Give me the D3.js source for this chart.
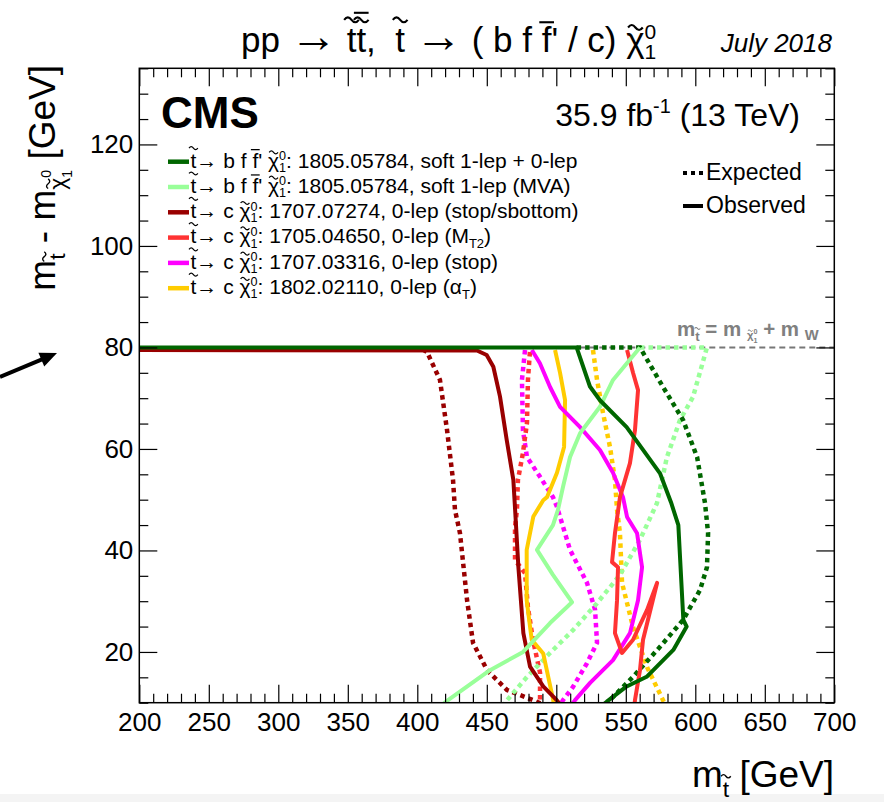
<!DOCTYPE html>
<html><head><meta charset="utf-8">
<script src="https://cdn.jsdelivr.net/npm/d3@7"></script>
<style>body{margin:0;background:#fff} text{white-space:pre}</style>
</head><body>
<svg id="c" width="884" height="802"></svg>
<script>
// ---------------- DATA ----------------
const xMajorTicks = [200, 250, 300, 350, 400, 450, 500, 550, 600, 650, 700];
const yMajorTicks = [20, 40, 60, 80, 100, 120];
const xMinorTicks = d3.range(200, 701, 10).filter(v => v % 50 !== 0);
const yMinorTicks = d3.range(10, 136, 5).filter(v => v % 20 !== 0);

const legendDecay = ["bff", "bff", "c", "c", "c", "c"];
const legendPaper = ["1805.05784", "1805.05784", "1707.07274", "1705.04650", "1707.03316", "1802.02110"];
const legendAnalysis = ["soft 1-lep + 0-lep", "soft 1-lep (MVA)", "0-lep (stop/sbottom)", "0-lep (M_T2)", "0-lep (stop)", "0-lep (α_T)"];
const seriesColors = ["#006600", "#99ff99", "#990000", "#ff3333", "#ff00ff", "#ffcc00"];

// observed contours [m_stop, dm]
const obsDarkGreen = [[200,80],[514.6,80],[524.2,72.3],[531.4,69.6],[550.6,64.3],[574.6,55.2],[582.5,49.5],[587.8,45],[591.4,26.3],[593.8,25],[584.2,20.4],[565,15.1],[550.6,13.2],[536.3,10.2],[531,9]];
const obsLightGreen = [[560.2,80],[540.8,73.6],[531.4,68.3],[517.1,63.1],[509.9,58.4],[504.8,52.5],[501.2,48],[497.6,45],[486.1,40.1],[497.6,35.2],[511.3,29.8],[495.5,25.7],[476.1,20],[452.3,16.4],[422.1,10.5],[418,9.6]];
const obsDarkRed = [[200,79.5],[442.9,79.4],[449.9,78.5],[454.7,76.2],[459.5,70.3],[464.3,61.8],[469.1,53.9],[470.8,46],[472.7,36.8],[476.3,23.7],[481.1,17.1],[490.6,13.2],[500.3,10.5],[503,9.6]];
const obsRed = [[550.9,79.5],[555.2,75],[558.8,71.6],[556.6,63.7],[553,57.2],[545.8,50.5],[542.2,43.4],[540.1,37.7],[544.4,36.7],[543.7,30.2],[542.2,23.7],[547.3,19.8],[555.2,22.4],[565.3,28.3],[572.5,33.6],[562.4,22.4],[560.2,16.4],[556.6,10.5],[556.2,9.5]];
const obsMagenta = [[482.4,79.5],[488.2,76.9],[495.5,72.2],[502.7,68.3],[517.1,64.3],[531.4,59.8],[540.8,55.3],[548,50.5],[550.9,46.6],[558.1,43.4],[561.7,36.7],[558.8,30.2],[553,23.7],[540.8,18.4],[524.3,13.9],[513.5,10.5],[511,9.6]];
const obsYellow = [[499.1,79.5],[502.7,75],[506.3,69.6],[505.6,60.4],[500.5,55.3],[493.3,50.5],[490.6,49.9],[483.5,46.7],[478.7,40.1],[478.7,30.2],[482.3,22.4],[490.6,19.7],[494.2,15.1],[497.8,10.5],[498.2,9.5]];

// expected contours
const expDarkGreen = [[514.6,80],[560.2,80],[576.8,72.2],[591.2,65.7],[601.3,58.4],[607,49.3],[609.2,43.4],[608.4,36.7],[603.4,32.2],[591.2,26.3],[574.6,21],[555.2,15.1],[538.6,10.5],[536,9.6]];
const expLightGreen = [[560.2,80],[608.4,80],[598.3,70.2],[589,65.7],[579.6,58.4],[572.4,49.3],[560.2,42.1],[545.8,35.2],[529.3,29.6],[512,24.3],[495.5,19.8],[479,15.1],[464.6,10.5],[462,9.6]];
const expDarkRed = [[404,79.6],[407,79.1],[416.3,73.6],[421.4,63.7],[425.7,53.9],[427.1,48],[430.7,43.4],[435.8,30.2],[440.1,21.8],[450.2,16.4],[464.6,12.5],[483.3,10.5],[490,9.7]];
const expRed = [[481,79.1],[479.6,73.6],[478.9,65.1],[476,59.2],[472.4,53.9],[471.7,48],[470.3,44.6],[470.3,38.1],[477.5,35.5],[479.6,28.8],[483.2,22.4],[488.3,15.9],[488.3,10.5],[488.3,9.5]];
const expMagenta = [[477.5,79.5],[475.3,73.6],[476,63.7],[478.9,58.4],[488.3,54.5],[497.6,50.5],[500.5,48.6],[509.9,40.1],[522.1,33.6],[527.9,28.3],[529.3,21.8],[522.1,17.8],[512,13.1],[504.8,10.5],[503,9.6]];
const expYellow = [[526.4,79.5],[529.3,73.6],[533.6,67.1],[538.6,60.4],[542.2,53.9],[543.7,48],[545.8,43.4],[547.3,33.6],[555.2,24.9],[565.3,17],[576.8,10.5],[578.5,9.5]];

const observedCurves = [obsDarkGreen, obsLightGreen, obsDarkRed, obsRed, obsMagenta, obsYellow];
const expectedCurves = [expDarkGreen, expLightGreen, expDarkRed, expRed, expMagenta, expYellow];

const kinematicLine = [[200, 80], [700, 80]];

// ---------------- DRAWING ----------------
const FONT = "'Liberation Sans', Arial, Helvetica, sans-serif";
const svg = d3.select("#c");
svg.append("rect").attr("x",0).attr("y",0).attr("width",884).attr("height",802).attr("fill","#fff");
svg.append("rect").attr("x",0).attr("y",794).attr("width",884).attr("height",8).attr("fill","#f4f4f4");

const L = 139.3, R = 834.3, T = 68.3, B = 702.7;
const x = d3.scaleLinear().domain([200, 700]).range([L, R]);
const y = d3.scaleLinear().domain([10, 135]).range([B, T]);

// rich text helper
function rich(parent, segs, o) {
  const g = parent.append("g").attr("transform", o.transform || `translate(${o.x},${o.y})`);
  const fs = o.size;
  const fill = o.fill || "#000";
  const t = g.append("text").attr("x", 0).attr("y", 0)
    .attr("xml:space", "preserve")
    .attr("font-family", FONT).attr("font-size", fs).attr("fill", fill)
    .attr("text-anchor", o.anchor || "start");
  if (o.weight) t.attr("font-weight", o.weight);
  if (o.italic) t.attr("font-style", "italic");
  let prev = 0, idx = 0;
  const marks = [];
  segs.forEach(s => {
    if (typeof s === "string") s = {t: s};
    const sc = s.sc || 1, off = -(s.up || 0) * fs;
    const ts = t.append("tspan").attr("font-size", fs * sc).attr("dy", off - prev).text(s.t);
    if (s.dx) ts.attr("dx", s.dx * fs);
    prev = off;
    if (s.mark) marks.push({i: idx, s: s, size: fs * sc, base: off});
    idx += s.t.length;
  });
  const node = t.node();
  marks.forEach(m => {
    const e = node.getExtentOfChar(m.i);
    const cx = e.x + e.width / 2 + (m.s.mx || 0) * m.size;
    const w = (m.s.mw || 0.42) * m.size;
    const list = Array.isArray(m.s.mark) ? m.s.mark : [m.s.mark];
    let h = (m.s.mh || 0.92) * m.size;
    const sw = Math.max(1, (o.weight ? 0.085 : 0.06) * m.size);
    list.forEach(k => {
      const yb = m.base - h;
      if (k === "tilde") {
        const a = 0.07 * m.size;
        g.append("path").attr("d", `M${cx - w/2},${yb} q${w/4},${-2*a} ${w/2},0 t${w/2},0`)
          .attr("fill", "none").attr("stroke", fill).attr("stroke-width", sw);
        h += 0.2 * m.size;
      } else {
        g.append("line").attr("x1", cx - w/2).attr("x2", cx + w/2).attr("y1", yb).attr("y2", yb)
          .attr("stroke", fill).attr("stroke-width", sw);
        h += 0.12 * m.size;
      }
    });
  });
  return g;
}
function subParse(str) {
  const out = [];
  const parts = str.split(/_([A-Za-z0-9]+)/);
  parts.forEach((p, i) => {
    if (!p) return;
    if (i % 2 === 1) out.push({t: p, sc: 0.62, up: -0.22});
    else out.push({t: p, up: 0});
  });
  return out;
}
const chi = (mh) => [{t: "χ", mark: "tilde", mh: mh || 0.72}, {t: "0", sc: 0.6, up: 0.36}, {t: "1", sc: 0.6, up: -0.2, dx: -0.6 * 0.556}];

// clip
svg.append("clipPath").attr("id", "clip").append("rect")
  .attr("x", L).attr("y", T).attr("width", R - L).attr("height", B - T);

const line = d3.line().x(d => x(d[0])).y(d => y(d[1]));
const plot = svg.append("g").attr("clip-path", "url(#clip)");

// kinematic line
plot.append("path").attr("d", line(kinematicLine)).attr("fill", "none")
  .attr("stroke", "#777").attr("stroke-width", 2).attr("stroke-dasharray", "6,4");

// expected (dotted), reverse order so first series on top
for (let i = expectedCurves.length - 1; i >= 0; i--) {
  plot.append("path").attr("d", line(expectedCurves[i])).attr("fill", "none")
    .attr("stroke", seriesColors[i]).attr("stroke-width", 4.5).attr("stroke-dasharray", "4.5,4");
}
for (let i = observedCurves.length - 1; i >= 0; i--) {
  plot.append("path").attr("d", line(observedCurves[i])).attr("fill", "none")
    .attr("stroke", seriesColors[i]).attr("stroke-width", 4).attr("stroke-linejoin", "round");
}

// axes
function ax(gen, tr, vals, size, labels, pad) {
  const a = gen.tickValues(vals).tickSizeInner(size).tickSizeOuter(0).tickPadding(pad || 8);
  if (!labels) a.tickFormat("");
  const g = svg.append("g").attr("transform", tr).call(a);
  g.select(".domain").remove();
  g.selectAll(".tick line").attr("stroke", "#000").attr("stroke-width", 1.2);
  g.selectAll("text").attr("font-family", FONT).attr("font-size", 26).attr("fill", "#000");
  return g;
}
ax(d3.axisBottom(x), `translate(0,${B})`, xMajorTicks, -18, true, 10);
ax(d3.axisBottom(x), `translate(0,${B})`, xMinorTicks, -9, false);
ax(d3.axisTop(x), `translate(0,${T})`, xMajorTicks, -18, false);
ax(d3.axisTop(x), `translate(0,${T})`, xMinorTicks, -9, false);
ax(d3.axisLeft(y), `translate(${L},0)`, yMajorTicks, -18, true, 6);
ax(d3.axisLeft(y), `translate(${L},0)`, yMinorTicks, -9, false);
ax(d3.axisRight(y), `translate(${R},0)`, yMajorTicks, -18, false);
ax(d3.axisRight(y), `translate(${R},0)`, yMinorTicks, -9, false);

svg.append("rect").attr("x", L).attr("y", T).attr("width", R - L).attr("height", B - T)
  .attr("fill", "none").attr("stroke", "#000").attr("stroke-width", 1.5);

// kinematic label
rich(svg, ["m", {t: "t", sc: 0.65, up: -0.25, mark: "tilde", mh: 0.95}, {t: " = m ", up: 0},
  {t: "χ", sc: 0.55, up: -0.15, mark: "tilde", mh: 0.75}, {t: "0", sc: 0.35, up: 0.12}, {t: "1", sc: 0.35, up: -0.32, dx: -0.35 * 0.556},
  {t: " + m ", up: 0}, {t: "W", sc: 0.72, up: -0.2}],
  {x: 677, y: 336, size: 20.5, fill: "#808080", weight: "bold"});

// title
const arrowBig = {t: "→", sc: 1.35, up: 0.0};
rich(svg, ["pp ", arrowBig, {t: " ", up: 0}, {t: "t", mark: "tilde"}, {t: "t", mark: ["tilde", "bar"]}, ",  ", {t: "t", mark: "tilde"},
  " ", arrowBig, {t: " ( b f ", up: 0}, {t: "f", mark: "bar", mh: 0.85}, "' / c) ", ...chi(0.7)],
  {x: 241, y: 52, size: 35});
rich(svg, ["July 2018"], {x: 832, y: 52, size: 26, italic: true, anchor: "end"});

// CMS + lumi
rich(svg, ["CMS"], {x: 161, y: 128, size: 44, weight: "bold"});
rich(svg, ["35.9 fb", {t: "-1", sc: 0.62, up: 0.42}, {t: " (13 TeV)", up: 0}], {x: 800, y: 126, size: 32, anchor: "end"});

// legend
const legY0 = 161.7, legDY = 25.3;
legendPaper.forEach((p, i) => {
  const yy = legY0 + i * legDY;
  svg.append("line").attr("x1", 168).attr("x2", 189).attr("y1", yy).attr("y2", yy)
    .attr("stroke", seriesColors[i]).attr("stroke-width", 4.5);
  const decay = legendDecay[i] === "bff"
    ? [{t: "t", mark: "tilde"}, "→ b f ", {t: "f", mark: "bar", mh: 0.85}, "' ", ...chi(), {t: ": ", up: 0}]
    : [{t: "t", mark: "tilde"}, "→ c ", ...chi(), {t: ": ", up: 0}];
  rich(svg, [...decay, {t: p + ", ", up: 0}, ...subParse(legendAnalysis[i])], {x: 190.5, y: yy + 5.8, size: 21});
});

// expected / observed legend
svg.append("line").attr("x1", 683).attr("x2", 703).attr("y1", 173).attr("y2", 173)
  .attr("stroke", "#000").attr("stroke-width", 4).attr("stroke-dasharray", "4,4");
svg.append("line").attr("x1", 683).attr("x2", 703).attr("y1", 206).attr("y2", 206)
  .attr("stroke", "#000").attr("stroke-width", 4);
rich(svg, ["Expected"], {x: 706, y: 180, size: 23});
rich(svg, ["Observed"], {x: 706, y: 213, size: 23});

// axis titles
rich(svg, ["m", {t: "t", sc: 0.62, up: -0.28, mark: "tilde"}, {t: " [GeV]", up: 0}],
  {x: 834, y: 787, size: 37, anchor: "end"});
rich(svg, ["m", {t: "t", sc: 0.62, up: -0.28, mark: "tilde"}, {t: " - m", up: 0},
  {t: "χ", sc: 0.62, up: -0.28, mark: "tilde", mh: 0.75}, {t: "0", sc: 0.38, up: 0.1}, {t: "1", sc: 0.38, up: -0.45, dx: -0.38 * 0.556},
  {t: " [GeV]", up: 0}],
  {transform: "translate(55,65) rotate(-90)", size: 37, anchor: "end"});

// arrow pointing at dm = 80
(function () {
  const tail = [0, 377], tip = [57, 353];
  const dx = tip[0] - tail[0], dy = tip[1] - tail[1], len = Math.hypot(dx, dy);
  const ux = dx / len, uy = dy / len, px = -uy, py = ux;
  const hl = 17, hw = 7.5;
  const bx = tip[0] - hl * ux, by = tip[1] - hl * uy;
  svg.append("line").attr("x1", tail[0]).attr("y1", tail[1]).attr("x2", bx + 2 * ux).attr("y2", by + 2 * uy)
    .attr("stroke", "#000").attr("stroke-width", 4);
  svg.append("path").attr("d", `M${tip[0]},${tip[1]}L${bx + hw * px},${by + hw * py}L${bx - hw * px},${by - hw * py}Z`)
    .attr("fill", "#000");
})();
</script>
</body></html>
